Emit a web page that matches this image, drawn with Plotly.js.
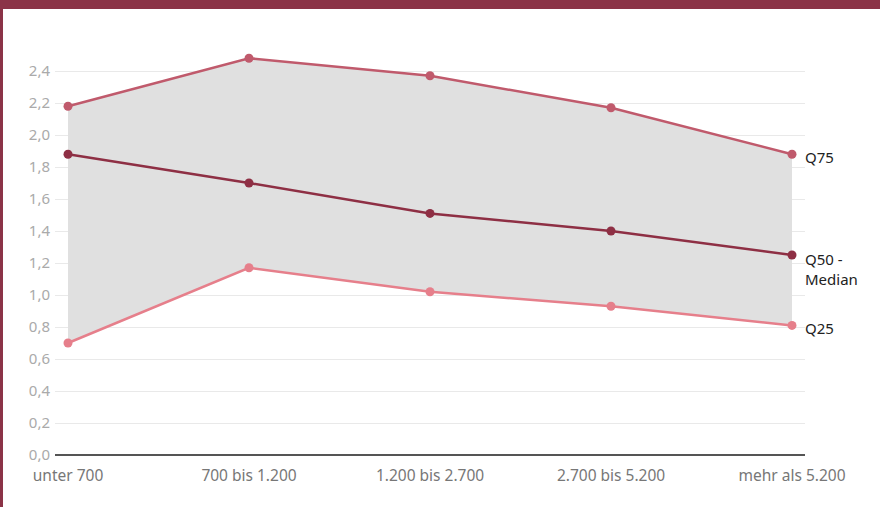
<!DOCTYPE html>
<html>
<head>
<meta charset="utf-8">
<script src="https://cdn.plot.ly/plotly-3.0.1.min.js"></script>
<style>
  html, body { margin: 0; padding: 0; background: #fff; }
  #wrap { position: relative; width: 880px; height: 507px; overflow: hidden; }
  #chart { position: absolute; left: 0; top: 0; width: 880px; height: 507px; }
  .bar-top { position: absolute; left: 0; top: 0; width: 880px; height: 9px; background: #8b3347; }
  .bar-left { position: absolute; left: 0; top: 0; width: 3px; height: 507px; background: #8b3347; }
</style>
</head>
<body>
<div id="wrap">
  <div id="chart"></div>
  <div class="bar-top"></div>
  <div class="bar-left"></div>
</div>
<script>
// Income brackets (x axis)
const categories = ["unter 700", "700 bis 1.200", "1.200 bis 2.700", "2.700 bis 5.200", "mehr als 5.200"];
// Quartile values per bracket
const q75 = [2.18, 2.48, 2.37, 2.17, 1.88];
const q50 = [1.88, 1.70, 1.51, 1.40, 1.25];
const q25 = [0.70, 1.17, 1.02, 0.93, 0.81];
// Series labels shown at the right end of each line
const seriesLabels = ["Q75", "Q50 -<br>Median", "Q25"];
const yTicks = [0, 0.2, 0.4, 0.6, 0.8, 1.0, 1.2, 1.4, 1.6, 1.8, 2.0, 2.2, 2.4];

const FONT = "'Noto Sans', 'Open Sans', sans-serif";
const xIdx = categories.map((_, i) => i);

const traces = [
  {
    x: xIdx, y: q25, type: "scatter", mode: "lines+markers",
    line: { color: "#e67f8b", width: 2.5 },
    marker: { color: "#e67f8b", size: 9 },
    hoverinfo: "skip"
  },
  {
    x: xIdx, y: q75, type: "scatter", mode: "lines+markers",
    fill: "tonexty", fillcolor: "#e0e0e0",
    line: { color: "#c05a6c", width: 2.5 },
    marker: { color: "#c05a6c", size: 9 },
    hoverinfo: "skip"
  },
  {
    x: xIdx, y: q50, type: "scatter", mode: "lines+markers",
    line: { color: "#8e2f44", width: 2.5 },
    marker: { color: "#8e2f44", size: 9 },
    hoverinfo: "skip"
  }
];

const last = categories.length - 1;
const endValues = [q75[last], q50[last], q25[last]];
const annotations = seriesLabels.map((t, i) => ({
  xref: "paper", yref: "y", x: 1, y: endValues[i],
  xanchor: "left", yanchor: i === 1 ? "top" : "middle",
  yshift: i === 1 ? 8 : -3,
  xshift: -2,
  text: t, showarrow: false, align: "left",
  font: { family: FONT, size: 15, color: "#222" }
}));

const layout = {
  width: 880, height: 507,
  margin: { l: 55, r: 75, t: 47, b: 52 },
  paper_bgcolor: "#fff", plot_bgcolor: "#fff",
  showlegend: false,
  font: { family: FONT },
  separators: ",.",
  xaxis: {
    type: "linear",
    range: [-0.0718, 4.0718],
    tickvals: xIdx, ticktext: categories,
    showgrid: false, zeroline: false,
    showline: false, ticks: "",
    ticklabelstandoff: 9,
    tickfont: { family: FONT, size: 15.5, color: "#777" },
    fixedrange: true
  },
  yaxis: {
    range: [0, 2.55],
    tickvals: yTicks, tickformat: ".1f",
    showgrid: true, gridcolor: "#e9e9e9", gridwidth: 1,
    zeroline: true, zerolinecolor: "#555", zerolinewidth: 2,
    showline: false, ticks: "",
    ticklabelstandoff: 4,
    tickfont: { family: FONT, size: 15, color: "#aaa" },
    fixedrange: true
  },
  annotations: annotations
};

Plotly.newPlot("chart", traces, layout, { staticPlot: true, displayModeBar: false });
</script>
</body>
</html>
